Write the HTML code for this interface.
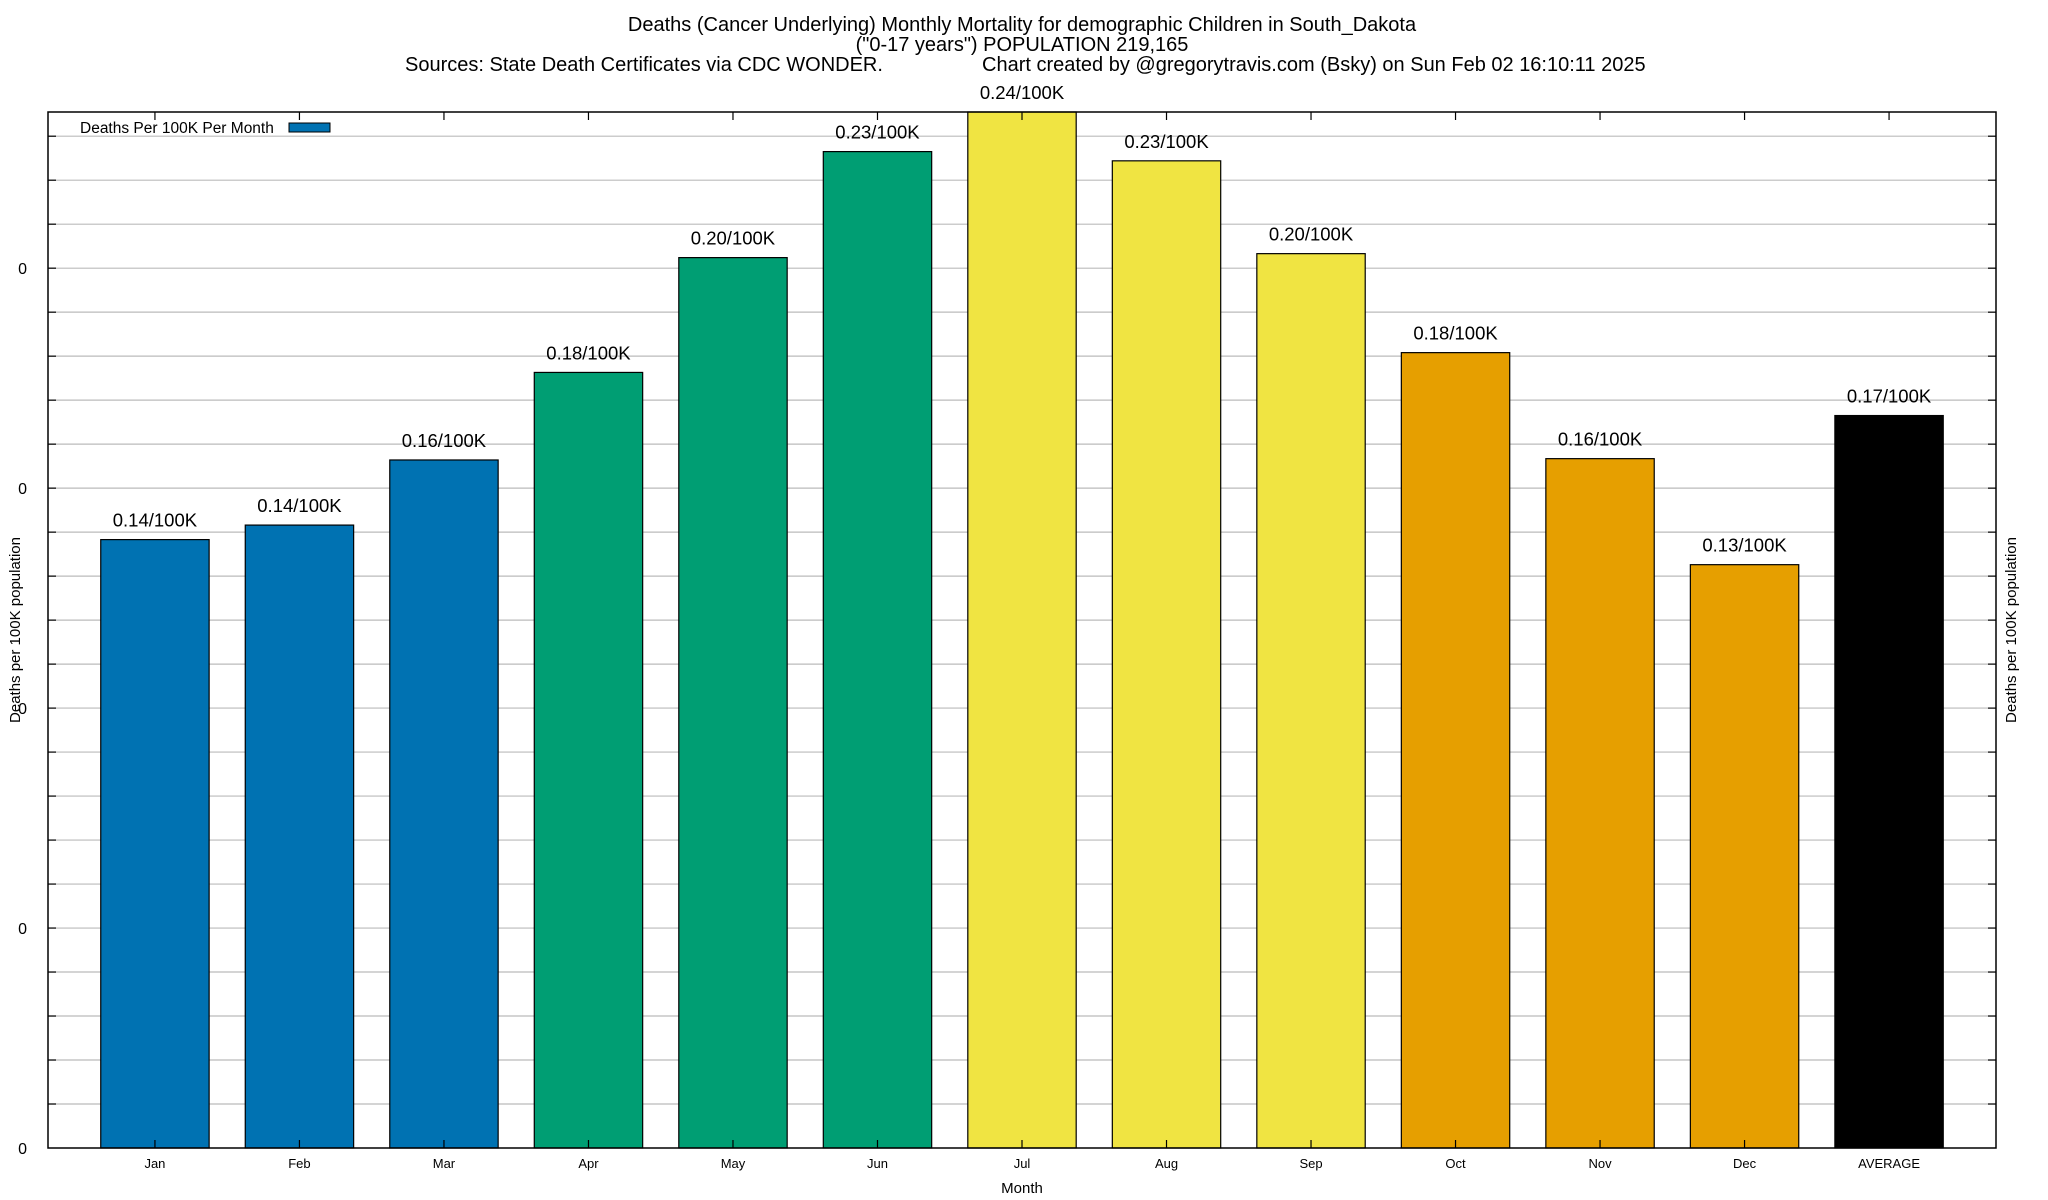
<!DOCTYPE html>
<html><head><meta charset="utf-8"><style>
html,body{margin:0;padding:0;background:#fff;}
svg{display:block;font-family:"Liberation Sans",Arial,sans-serif;}
</style></head><body>
<svg id="chart" width="2048" height="1200" viewBox="0 0 2048 1200" xmlns="http://www.w3.org/2000/svg">
<rect x="0" y="0" width="2048" height="1200" fill="#fff"/>
<text x="1022" y="31" font-size="20" text-anchor="middle">Deaths (Cancer Underlying) Monthly Mortality for demographic Children in South_Dakota</text>
<text x="1022" y="51" font-size="20" text-anchor="middle">("0-17 years") POPULATION 219,165</text>
<text x="405" y="71" font-size="20">Sources: State Death Certificates via CDC WONDER.</text>
<text x="982" y="71" font-size="20">Chart created by @gregorytravis.com (Bsky) on Sun Feb 02 16:10:11 2025</text>
<g id="grid"></g>
<g id="bars"></g>
<g id="axes"></g>
<text transform="translate(20,630) rotate(-90)" font-size="15" text-anchor="middle">Deaths per 100K population</text>
<text transform="translate(2016,630) rotate(-90)" font-size="15" text-anchor="middle">Deaths per 100K population</text>
<text x="1022" y="1193" font-size="15" text-anchor="middle">Month</text>
<g>
<text x="80" y="133" font-size="15.5">Deaths Per 100K Per Month</text>
<rect x="289" y="123" width="41" height="9" fill="#0072b2" stroke="#000" stroke-width="1"/>
</g>
</svg>
<script>
const categories = ["Jan","Feb","Mar","Apr","May","Jun","Jul","Aug","Sep","Oct","Nov","Dec","AVERAGE"];
const values = [0.1383,0.1416,0.1564,0.1763,0.2024,0.2265,0.2355,0.2244,0.2033,0.1808,0.1567,0.1326,0.1665];
const valueLabels = ["0.14/100K","0.14/100K","0.16/100K","0.18/100K","0.20/100K","0.23/100K","0.24/100K","0.23/100K","0.20/100K","0.18/100K","0.16/100K","0.13/100K","0.17/100K"];
const barColors = ["#0072b2","#0072b2","#0072b2","#009e73","#009e73","#009e73","#f0e442","#f0e442","#f0e442","#e69f00","#e69f00","#e69f00","#000000"];
const yTicks = [0,0.05,0.1,0.15,0.2];
const yTickLabels = ["0","0","0","0","0"];
const yMax = 0.2355, yStep = 0.01;

const NS="http://www.w3.org/2000/svg";
const L=48,R=1996,T=112,B=1148;
const xMin=-0.74,xMax=12.74;
const X=v=>L+(v-xMin)/(xMax-xMin)*(R-L);
const Y=v=>B-v/yMax*(B-T);
function mk(tag,attrs,parent){const e=document.createElementNS(NS,tag);for(const k in attrs)e.setAttribute(k,attrs[k]);parent.appendChild(e);return e;}
const grid=document.getElementById('grid'),bars=document.getElementById('bars'),axes=document.getElementById('axes');
for(let i=1;i*yStep<yMax;i++){
  const y=Y(i*yStep);
  const g=mk('line',{x1:L,x2:R,y1:y,y2:y,stroke:'#bbb','stroke-width':1.2},grid);
  
  
  const t1=mk('line',{x1:L,x2:L+8,y1:y,y2:y,stroke:'#000','stroke-width':1.2},axes);
  
  
  const t2=mk('line',{x1:R-8,x2:R,y1:y,y2:y,stroke:'#000','stroke-width':1.2},axes);
  
  
}
yTicks.forEach((v,i)=>{
  const t=mk('text',{x:L-21,y:Y(v)+6,'font-size':16,'text-anchor':'end'},axes);
  t.textContent=yTickLabels[i];
  
  
});
const bw=0.75*(X(1)-X(0));
categories.forEach((c,i)=>{
  const cx=X(i),top=Y(values[i]);
  const r=mk('rect',{x:cx-bw/2,y:Math.max(top,T),width:bw,height:B-Math.max(top,T),fill:barColors[i],stroke:'#000','stroke-width':1.2},bars);
  
  
  const vl=mk('text',{x:cx,y:top-13,'font-size':18.5,'text-anchor':'middle'},bars);
  vl.textContent=valueLabels[i];
  
  
  const tl=mk('text',{x:cx,y:1168,'font-size':13,'text-anchor':'middle'},axes);
  tl.textContent=c;
  
  
  const tb=mk('line',{x1:cx,x2:cx,y1:B,y2:B-8,stroke:'#000','stroke-width':1.2},axes);
  
  
  const tt=mk('line',{x1:cx,x2:cx,y1:T,y2:T+8,stroke:'#000','stroke-width':1.2},axes);
  
  
});
const fr=mk('rect',{x:L,y:T,width:R-L,height:B-T,fill:'none',stroke:'#000','stroke-width':1.5},axes);


</script>
</body></html>
